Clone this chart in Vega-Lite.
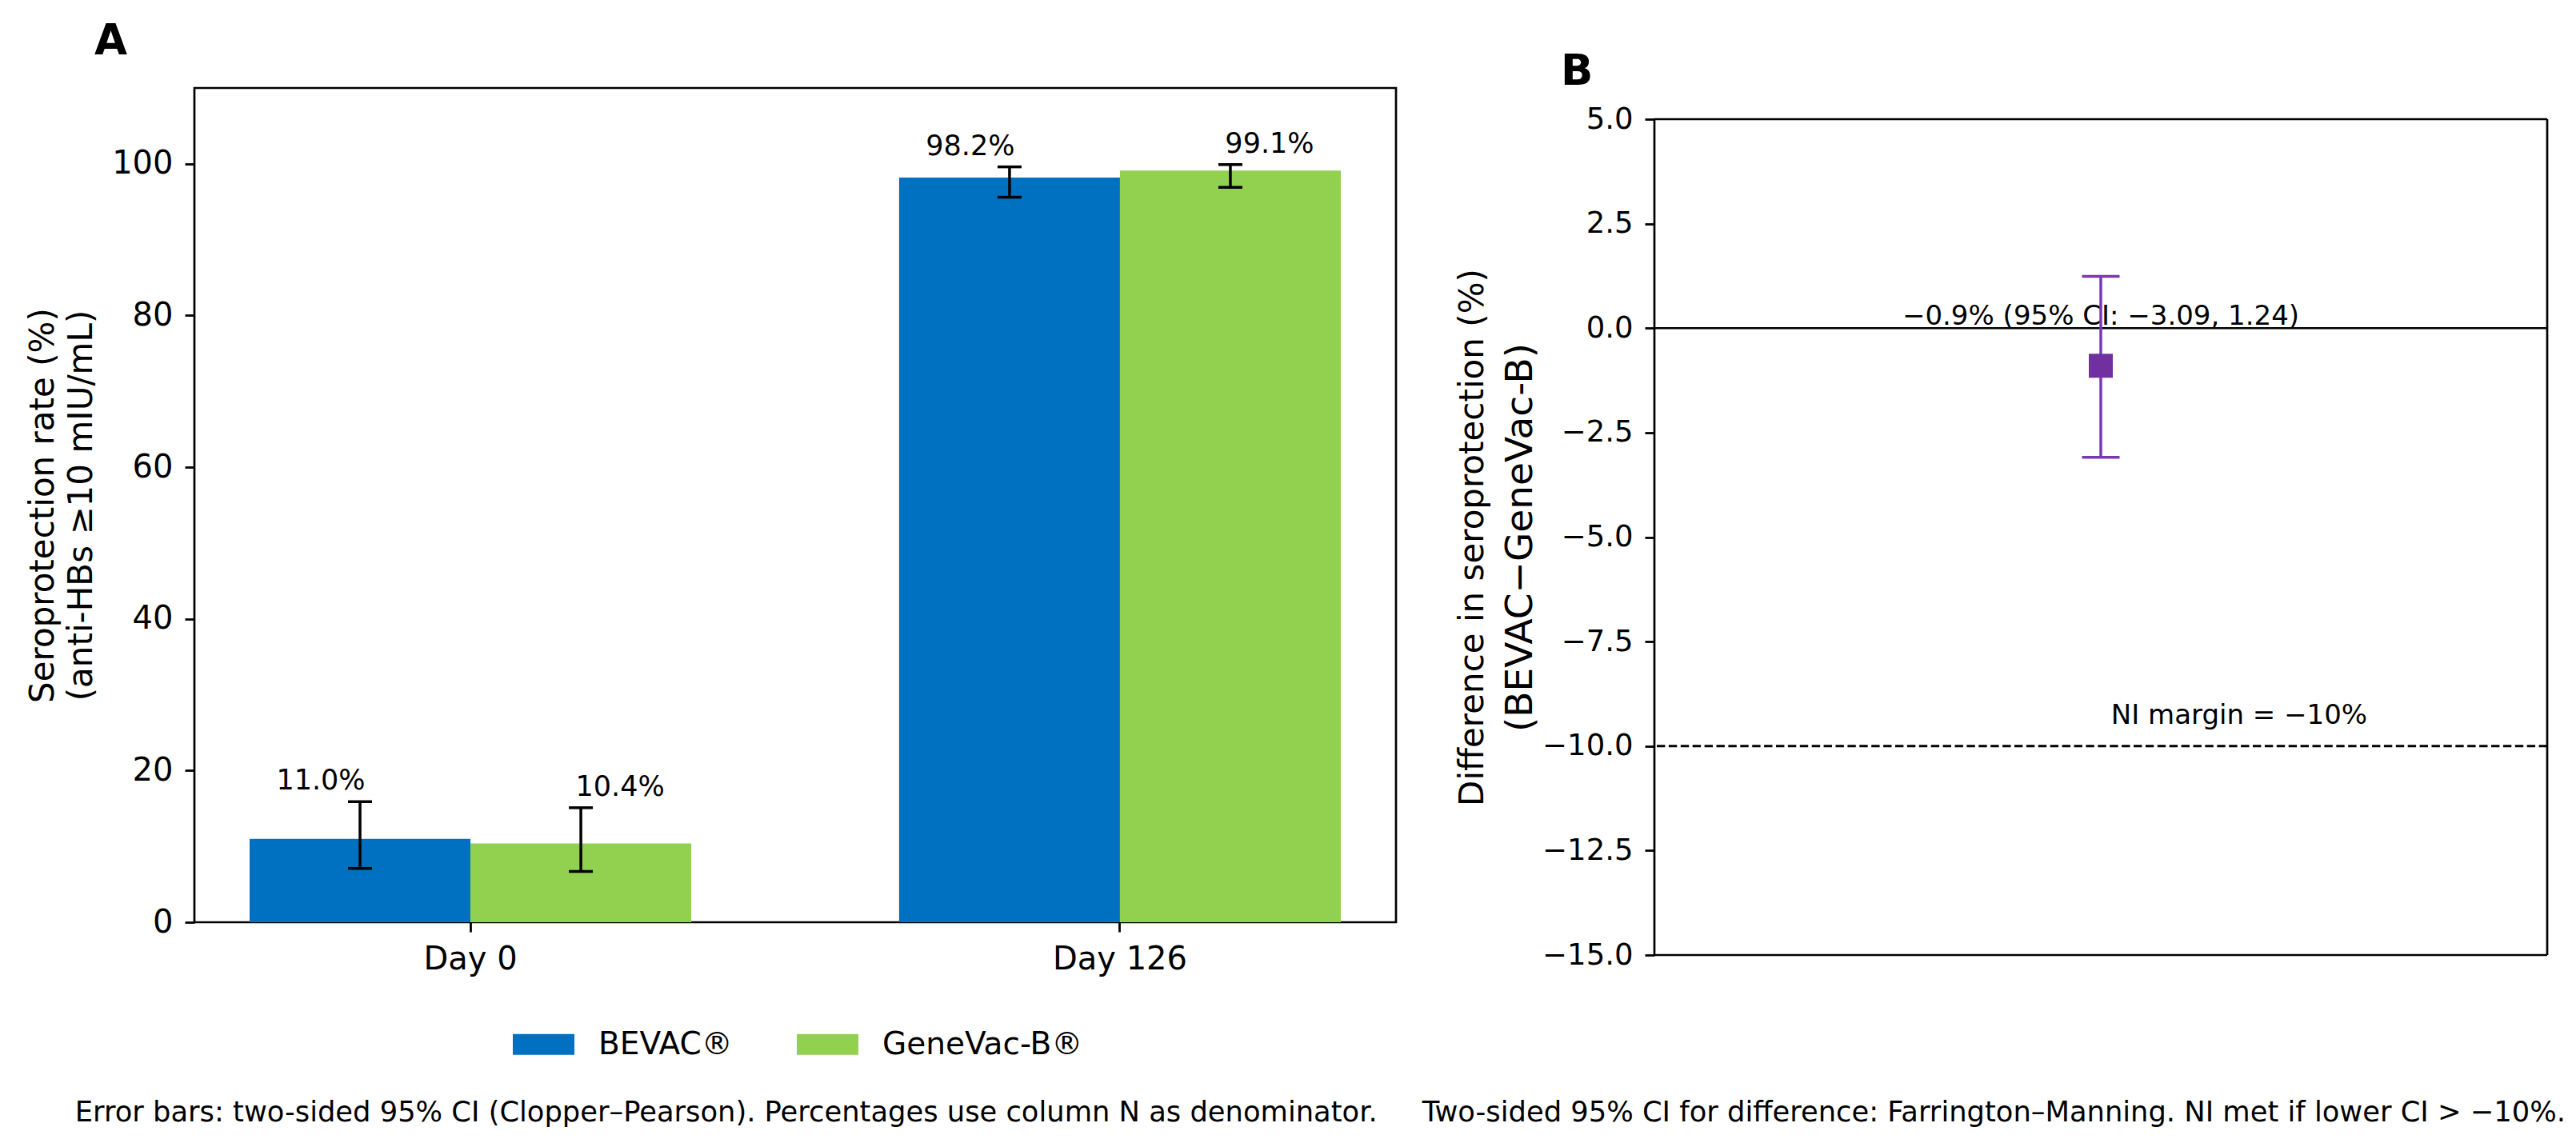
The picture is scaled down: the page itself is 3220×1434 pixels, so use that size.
{
  "$schema": "https://vega.github.io/schema/vega-lite/v6.json",
  "background": "white",
  "padding": {"left": 31, "top": 24, "right": 10, "bottom": 5},
  "config": {
    "font": "DejaVu Sans",
    "view": {"stroke": "#000000", "strokeWidth": 2.7},
    "axis": {
      "labelFont": "DejaVu Sans",
      "titleFont": "DejaVu Sans",
      "labelColor": "#000000",
      "titleColor": "#000000",
      "tickColor": "#000000",
      "titleFontWeight": "normal",
      "tickSize": 12,
      "tickWidth": 2.8,
      "domain": false,
      "grid": false
    },
    "legend": {"labelFont": "DejaVu Sans", "labelColor": "#000000"},
    "text": {"font": "DejaVu Sans", "color": "#000000"},
    "title": {"font": "DejaVu Sans", "color": "#000000"}
  },
  "title": {
    "text": "Error bars: two-sided 95% CI (Clopper–Pearson). Percentages use column N as denominator.\u00a0\u00a0\u00a0\u00a0 Two-sided 95% CI for difference: Farrington–Manning. NI met if lower CI > −10%.",
    "orient": "bottom",
    "anchor": "middle",
    "fontSize": 35.3,
    "fontWeight": "normal",
    "offset": 48,
    "dx": 42
  },
  "spacing": 72,
  "datasets": {
    "rates": [
      {"visit": "Day 0", "vaccine": "BEVAC®", "rate": 11.0, "lo": 7.1, "hi": 15.9, "label": "11.0%"},
      {"visit": "Day 0", "vaccine": "GeneVac-B®", "rate": 10.4, "lo": 6.7, "hi": 15.1, "label": "10.4%"},
      {"visit": "Day 126", "vaccine": "BEVAC®", "rate": 98.2, "lo": 95.6, "hi": 99.6, "label": "98.2%"},
      {"visit": "Day 126", "vaccine": "GeneVac-B®", "rate": 99.1, "lo": 96.9, "hi": 99.9, "label": "99.1%"}
    ],
    "diff": [
      {"x": 0, "diff": -0.9, "lo": -3.09, "hi": 1.24, "label": "−0.9% (95% CI: −3.09, 1.24)"}
    ],
    "margin": [
      {"x": 0.31, "y": -10, "label": "NI margin = −10%"}
    ]
  },
  "hconcat": [
    {
      "width": 1502,
      "height": 1043,
      "title": {"text": "A", "anchor": "start", "frame": "group", "fontSize": 53, "fontWeight": "bold", "baseline": "alphabetic", "offset": -11, "dx": -125},
      "data": {"name": "rates"},
      "encoding": {
        "x": {
          "field": "visit",
          "type": "nominal",
          "sort": ["Day 0", "Day 126"],
          "scale": {"paddingInner": 0.32, "paddingOuter": 0.085},
          "axis": {"title": null, "labelAngle": 0, "labelFontSize": 40, "labelPadding": 14}
        },
        "xOffset": {
          "field": "vaccine",
          "type": "nominal",
          "sort": ["BEVAC®", "GeneVac-B®"],
          "scale": {"paddingInner": 0, "paddingOuter": 0}
        }
      },
      "layer": [
        {
          "mark": {"type": "bar"},
          "encoding": {
            "y": {
              "field": "rate",
              "type": "quantitative",
              "scale": {"domain": [0, 110], "nice": false},
              "axis": {
                "title": ["Seroprotection rate (%)", "(anti-HBs ≥10 mIU/mL)"],
                "titleFontSize": 42,
                "titleLineHeight": 48,
                "titlePadding": 16,
                "labelFontSize": 40,
                "labelPadding": 15,
                "values": [0, 20, 40, 60, 80, 100]
              }
            },
            "color": {
              "field": "vaccine",
              "type": "nominal",
              "scale": {"domain": ["BEVAC®", "GeneVac-B®"], "range": ["#0070C0", "#92D050"]},
              "legend": {
                "title": null,
                "orient": "none",
                "legendX": 398,
                "legendY": 1157,
                "direction": "horizontal",
                "padding": 0,
                "symbolType": "M-1,-0.3377H1V0.3377H-1Z",
                "symbolSize": 5929,
                "symbolStrokeWidth": 0,
                "symbolOpacity": 1,
                "labelFontSize": 39,
                "labelLimit": 600,
                "labelOffset": 30,
                "columnPadding": 80
              }
            }
          }
        },
        {
          "mark": {"type": "rule", "color": "#000000", "strokeWidth": 3.5},
          "encoding": {
            "y": {"field": "lo", "type": "quantitative"},
            "y2": {"field": "hi"}
          }
        },
        {
          "mark": {"type": "tick", "orient": "horizontal", "color": "#000000", "thickness": 3.5, "size": 30, "opacity": 1},
          "encoding": {"y": {"field": "lo", "type": "quantitative"}}
        },
        {
          "mark": {"type": "tick", "orient": "horizontal", "color": "#000000", "thickness": 3.5, "size": 30, "opacity": 1},
          "encoding": {"y": {"field": "hi", "type": "quantitative"}}
        },
        {
          "transform": [{"filter": "datum.vaccine === 'BEVAC®'"}],
          "mark": {"type": "text", "fontSize": 35, "baseline": "alphabetic", "dy": -15, "dx": -49},
          "encoding": {
            "y": {"field": "hi", "type": "quantitative"},
            "text": {"field": "label"}
          }
        },
        {
          "transform": [{"filter": "datum.vaccine === 'GeneVac-B®'"}],
          "mark": {"type": "text", "fontSize": 35, "baseline": "alphabetic", "dy": -15, "dx": 49},
          "encoding": {
            "y": {"field": "hi", "type": "quantitative"},
            "text": {"field": "label"}
          }
        }
      ]
    },
    {
      "width": 1116,
      "height": 1084,
      "view": {"stroke": null},
      "title": {"text": "B", "anchor": "start", "frame": "group", "fontSize": 53, "fontWeight": "bold", "baseline": "alphabetic", "offset": -49, "dx": -117},
      "data": {"name": "diff"},
      "layer": [
        {
          "mark": {"type": "rule", "color": "#000000", "strokeWidth": 2.5},
          "encoding": {
            "y": {
              "datum": 0,
              "type": "quantitative",
              "scale": {"domain": [-15, 5], "nice": false, "zero": false, "range": [1084, 39]},
              "axis": {
                "orient": "left",
                "title": "Difference in seroprotection (%)",
                "titleFontSize": 42,
                "titlePadding": 206,
                "labels": false,
                "ticks": false,
                "domain": false
              }
            }
          }
        },
        {
          "layer": [
            {
              "mark": {"type": "rule", "color": "#000000", "strokeWidth": 2.7},
              "encoding": {
                "y": {
                  "datum": 5,
                  "type": "quantitative",
                  "scale": {"domain": [-15, 5], "nice": false, "zero": false, "range": [1084, 39]},
                  "axis": {
                    "orient": "left",
                    "title": "(BEVAC−GeneVac-B)",
                    "titleFontSize": 47,
                    "titlePadding": 3,
                    "labelFontSize": 37,
                    "labelPadding": 15,
                    "format": ".1f",
                    "values": [-15, -12.5, -10, -7.5, -5, -2.5, 0, 2.5, 5]
                  }
                }
              }
            },
            {
              "mark": {"type": "rule", "color": "#000000", "strokeWidth": 2.7},
              "encoding": {"y": {"datum": -15, "type": "quantitative"}}
            },
            {
              "mark": {"type": "rule", "color": "#000000", "strokeWidth": 2.7},
              "encoding": {
                "x": {"datum": -1, "type": "quantitative", "scale": {"domain": [-1, 1]}, "axis": null},
                "y": {"datum": -15, "type": "quantitative"},
                "y2": {"datum": 5}
              }
            },
            {
              "mark": {"type": "rule", "color": "#000000", "strokeWidth": 2.7},
              "encoding": {
                "x": {"datum": 1, "type": "quantitative", "scale": {"domain": [-1, 1]}, "axis": null},
                "y": {"datum": -15, "type": "quantitative"},
                "y2": {"datum": 5}
              }
            },
            {
              "mark": {"type": "rule", "color": "#000000", "strokeWidth": 2.8, "strokeDash": [10.4, 4.5]},
              "encoding": {"y": {"datum": -10, "type": "quantitative"}}
            },
            {
              "data": {"name": "margin"},
              "mark": {"type": "text", "fontSize": 34, "baseline": "alphabetic", "dy": -28},
              "encoding": {
                "x": {"field": "x", "type": "quantitative", "scale": {"domain": [-1, 1]}, "axis": null},
                "y": {"field": "y", "type": "quantitative"},
                "text": {"field": "label"}
              }
            },
            {
              "mark": {"type": "text", "fontSize": 34, "baseline": "alphabetic", "dy": -4},
              "encoding": {
                "x": {"field": "x", "type": "quantitative", "scale": {"domain": [-1, 1]}, "axis": null},
                "y": {"datum": 0, "type": "quantitative"},
                "text": {"field": "label"}
              }
            },
            {
              "mark": {"type": "rule", "color": "#7838B8", "strokeWidth": 3.5},
              "encoding": {
                "x": {"field": "x", "type": "quantitative", "scale": {"domain": [-1, 1]}, "axis": null},
                "y": {"field": "lo", "type": "quantitative"},
                "y2": {"field": "hi"}
              }
            },
            {
              "mark": {"type": "tick", "orient": "horizontal", "color": "#7838B8", "thickness": 3.5, "size": 47, "opacity": 1},
              "encoding": {
                "x": {"field": "x", "type": "quantitative", "scale": {"domain": [-1, 1]}, "axis": null},
                "y": {"field": "lo", "type": "quantitative"}
              }
            },
            {
              "mark": {"type": "tick", "orient": "horizontal", "color": "#7838B8", "thickness": 3.5, "size": 47, "opacity": 1},
              "encoding": {
                "x": {"field": "x", "type": "quantitative", "scale": {"domain": [-1, 1]}, "axis": null},
                "y": {"field": "hi", "type": "quantitative"}
              }
            },
            {
              "mark": {"type": "point", "shape": "square", "filled": true, "size": 900, "color": "#7030A0", "opacity": 1},
              "encoding": {
                "x": {"field": "x", "type": "quantitative", "scale": {"domain": [-1, 1]}, "axis": null},
                "y": {"field": "diff", "type": "quantitative"}
              }
            }
          ]
        }
      ],
      "resolve": {"axis": {"y": "independent"}}
    }
  ]
}
